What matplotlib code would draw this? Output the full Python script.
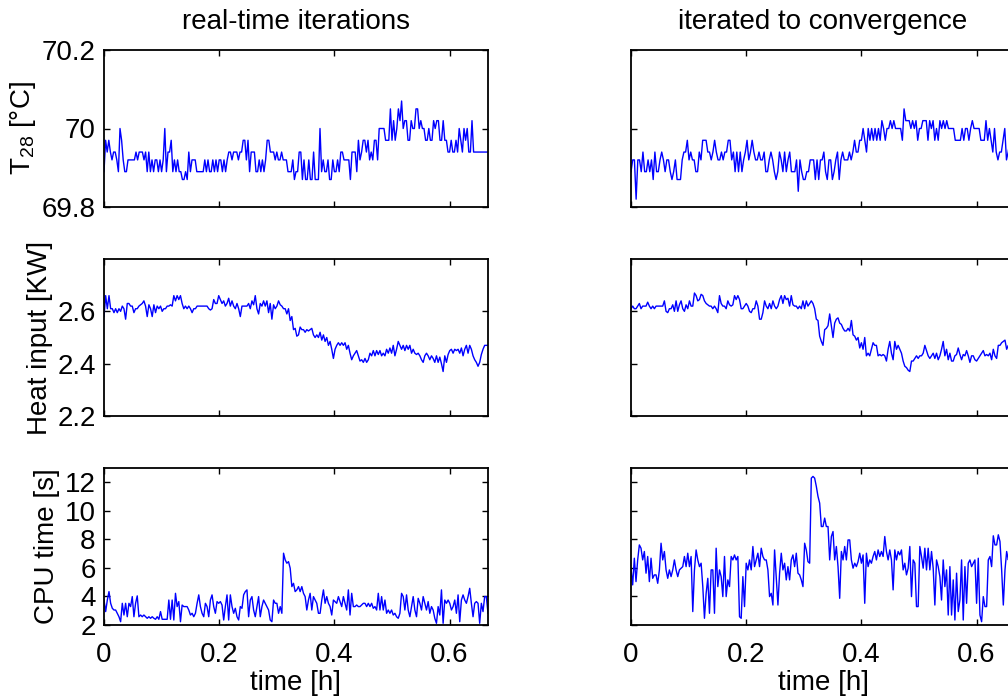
import numpy as np
import matplotlib
matplotlib.use("Agg")
import matplotlib.pyplot as plt

plt.rcParams['font.family'] = ['Liberation Sans', 'DejaVu Sans']
plt.rcParams['mathtext.fontset'] = 'custom'
plt.rcParams['mathtext.rm'] = 'Liberation Sans'
plt.rcParams['mathtext.it'] = 'Liberation Sans:italic'

T_END = 2.0 / 3.0  # 40 minutes in hours

col_titles = ["real-time iterations", "iterated to convergence"]
row_labels = [r"T$_{\mathrm{28}}$ [°C]", "Heat input [KW]", "CPU time [s]"]
x_ticks = [0, 0.2, 0.4, 0.6]
x_ticklabels = ["0", "0.2", "0.4", "0.6"]
y_limits = [(69.8, 70.2), (2.2, 2.8), (2, 13)]
y_ticks = [[69.8, 70, 70.2], [2.2, 2.4, 2.6], [2, 4, 6, 8, 10, 12]]
y_ticklabels = [["69.8", "70", "70.2"], ["2.2", "2.4", "2.6"],
                ["2", "4", "6", "8", "10", "12"]]

temp_rt = [
    69.89, 69.97, 69.94, 69.97, 69.94, 69.92, 69.94, 69.94, 69.92, 69.89,
    70.00, 69.97, 69.92, 69.89, 69.89, 69.92, 69.92, 69.92, 69.92, 69.92,
    69.94, 69.92, 69.94, 69.94, 69.94, 69.92, 69.94, 69.89, 69.94, 69.89,
    69.92, 69.89, 69.92, 69.92, 69.89, 69.92, 69.89, 69.92, 70.00, 69.89,
    69.94, 69.94, 69.97, 69.89, 69.92, 69.89, 69.92, 69.89, 69.89, 69.87,
    69.87, 69.89, 69.87, 69.94, 69.89, 69.92, 69.92, 69.92, 69.89, 69.89,
    69.89, 69.89, 69.89, 69.92, 69.89, 69.92, 69.89, 69.89, 69.92, 69.89,
    69.92, 69.89, 69.92, 69.92, 69.89, 69.92, 69.89, 69.92, 69.94, 69.94,
    69.92, 69.94, 69.94, 69.94, 69.92, 69.94, 69.94, 69.97, 69.97, 69.92,
    69.97, 69.89, 69.94, 69.94, 69.94, 69.89, 69.89, 69.92, 69.89, 69.92,
    69.89, 69.92, 69.97, 69.97, 69.94, 69.94, 69.94, 69.92, 69.94, 69.92,
    69.92, 69.94, 69.92, 69.92, 69.92, 69.89, 69.89, 69.89, 69.92, 69.87,
    69.89, 69.89, 69.94, 69.94, 69.87, 69.92, 69.87, 69.87, 69.92, 69.87,
    69.87, 69.94, 69.87, 69.87, 69.87, 70.00, 69.89, 69.92, 69.89, 69.89,
    69.92, 69.87, 69.87, 69.92, 69.89, 69.89, 69.92, 69.89, 69.94, 69.94,
    69.92, 69.92, 69.92, 69.92, 69.87, 69.94, 69.94, 69.94, 69.89, 69.97,
    69.92, 69.94, 69.97, 69.97, 69.94, 69.97, 69.92, 69.94, 69.92, 69.97,
    69.97, 69.92, 70.00, 70.00, 70.00, 70.00, 69.97, 69.97, 69.97, 70.05,
    69.97, 70.02, 69.97, 70.00, 70.05, 70.02, 70.07, 70.00, 70.02, 70.02,
    69.97, 69.97, 70.02, 70.00, 70.00, 70.05, 70.05, 70.00, 70.02, 70.00,
    70.00, 69.97, 69.97, 70.00, 69.97, 69.97, 70.02, 70.00, 70.02, 70.02,
    69.97, 69.97, 70.02, 69.97, 69.97, 69.94, 69.94, 69.97, 69.94, 69.94,
    69.97, 69.94, 70.00, 69.97, 69.94, 70.00, 69.97, 70.00, 69.94, 69.94,
    70.02, 69.94, 69.94, 69.94, 69.94, 69.94, 69.94, 69.94, 69.94, 69.94,
    69.94,
]

temp_conv = [
    69.89, 69.92, 69.92, 69.82, 69.92, 69.92, 69.89, 69.94, 69.89, 69.89,
    69.92, 69.89, 69.92, 69.87, 69.94, 69.89, 69.89, 69.92, 69.94, 69.92,
    69.89, 69.92, 69.92, 69.89, 69.87, 69.89, 69.92, 69.87, 69.87, 69.87,
    69.92, 69.94, 69.94, 69.97, 69.92, 69.94, 69.92, 69.92, 69.89, 69.89,
    69.94, 69.92, 69.97, 69.97, 69.97, 69.94, 69.94, 69.92, 69.94, 69.97,
    69.94, 69.92, 69.92, 69.94, 69.92, 69.94, 69.94, 69.97, 69.97, 69.92,
    69.94, 69.89, 69.94, 69.89, 69.94, 69.89, 69.92, 69.94, 69.97, 69.92,
    69.94, 69.97, 69.94, 69.92, 69.92, 69.94, 69.92, 69.92, 69.94, 69.89,
    69.89, 69.92, 69.94, 69.92, 69.89, 69.87, 69.89, 69.94, 69.92, 69.89,
    69.94, 69.89, 69.92, 69.94, 69.89, 69.89, 69.89, 69.92, 69.84, 69.92,
    69.89, 69.87, 69.87, 69.89, 69.89, 69.92, 69.92, 69.92, 69.87, 69.92,
    69.87, 69.92, 69.92, 69.94, 69.89, 69.87, 69.92, 69.92, 69.87, 69.89,
    69.92, 69.94, 69.87, 69.92, 69.94, 69.92, 69.92, 69.92, 69.94, 69.92,
    69.94, 69.97, 69.94, 69.94, 69.97, 69.97, 70.00, 69.97, 69.94, 70.00,
    69.97, 70.00, 69.97, 70.00, 69.97, 70.00, 69.97, 70.02, 70.00, 69.97,
    70.00, 70.00, 70.02, 70.00, 70.02, 70.00, 70.00, 70.00, 70.00, 69.97,
    70.05, 70.02, 70.02, 70.02, 70.00, 70.02, 70.00, 70.02, 69.97, 70.00,
    70.00, 70.02, 70.02, 70.02, 69.97, 70.02, 70.00, 70.02, 69.97, 70.00,
    69.97, 70.02, 70.00, 70.02, 70.00, 70.02, 70.00, 70.00, 70.00, 70.00,
    69.97, 69.97, 69.97, 69.97, 70.00, 69.97, 70.00, 70.00, 69.97, 70.00,
    70.02, 70.00, 70.00, 70.00, 70.00, 69.97, 69.97, 69.97, 70.02, 69.97,
    70.00, 69.97, 69.94, 70.00, 69.94, 69.92, 69.94, 69.94, 69.97, 70.00,
    69.92, 69.94, 69.97, 69.94, 69.94, 69.97,
]

heat_rt = [
    2.58, 2.66, 2.61, 2.66, 2.61, 2.61, 2.595, 2.61, 2.595, 2.61,
    2.60, 2.62, 2.61, 2.57, 2.63, 2.63, 2.62, 2.62, 2.595, 2.61,
    2.61, 2.62, 2.625, 2.63, 2.64, 2.62, 2.58, 2.625, 2.61, 2.58,
    2.625, 2.595, 2.62, 2.61, 2.62, 2.60, 2.61, 2.61, 2.62, 2.62,
    2.625, 2.62, 2.66, 2.64, 2.66, 2.645, 2.66, 2.63, 2.61, 2.62,
    2.61, 2.62, 2.61, 2.595, 2.61, 2.61, 2.62, 2.62, 2.62, 2.62,
    2.62, 2.62, 2.62, 2.61, 2.605, 2.61, 2.645, 2.63, 2.63, 2.66,
    2.645, 2.63, 2.64, 2.62, 2.63, 2.65, 2.62, 2.64, 2.62, 2.61,
    2.63, 2.61, 2.58, 2.62, 2.62, 2.62, 2.62, 2.63, 2.61, 2.64,
    2.625, 2.66, 2.61, 2.59, 2.63, 2.62, 2.64, 2.62, 2.64, 2.595,
    2.63, 2.57, 2.625, 2.61, 2.62, 2.64, 2.625, 2.62, 2.61, 2.61,
    2.59, 2.61, 2.565, 2.58, 2.53, 2.535, 2.505, 2.51, 2.54, 2.53,
    2.53, 2.52, 2.53, 2.525, 2.53, 2.535, 2.51, 2.50, 2.51, 2.50,
    2.52, 2.49, 2.51, 2.485, 2.50, 2.47, 2.485, 2.455, 2.42, 2.455,
    2.47, 2.48, 2.47, 2.48, 2.47, 2.48, 2.455, 2.47, 2.44, 2.415,
    2.43, 2.44, 2.45, 2.43, 2.41, 2.415, 2.405, 2.42, 2.405, 2.415,
    2.44, 2.43, 2.45, 2.43, 2.45, 2.435, 2.45, 2.43, 2.44, 2.43,
    2.455, 2.44, 2.46, 2.44, 2.47, 2.43, 2.455, 2.485, 2.47, 2.455,
    2.47, 2.45, 2.47, 2.455, 2.47, 2.44, 2.455, 2.44, 2.435, 2.44,
    2.43, 2.415, 2.405, 2.43, 2.44, 2.43, 2.415, 2.43, 2.42, 2.405,
    2.43, 2.405, 2.425, 2.40, 2.37, 2.43, 2.405, 2.435, 2.45, 2.455,
    2.44, 2.455, 2.45, 2.455, 2.44, 2.46, 2.43, 2.455, 2.47, 2.44,
    2.47, 2.455, 2.43, 2.415, 2.405, 2.39, 2.405, 2.435, 2.455, 2.47,
    2.47, 2.47,
]

heat_conv = [
    2.61, 2.62, 2.61, 2.61, 2.62, 2.63, 2.61, 2.62, 2.62, 2.62,
    2.635, 2.62, 2.61, 2.62, 2.61, 2.62, 2.62, 2.62, 2.62, 2.62,
    2.64, 2.60, 2.595, 2.61, 2.61, 2.625, 2.60, 2.64, 2.60, 2.625,
    2.64, 2.61, 2.60, 2.625, 2.61, 2.64, 2.62, 2.62, 2.67, 2.66,
    2.64, 2.645, 2.665, 2.66, 2.64, 2.63, 2.625, 2.62, 2.62, 2.61,
    2.62, 2.61, 2.595, 2.66, 2.63, 2.62, 2.62, 2.61, 2.64, 2.625,
    2.62, 2.625, 2.66, 2.645, 2.66, 2.645, 2.61, 2.61, 2.62, 2.63,
    2.62, 2.60, 2.595, 2.61, 2.61, 2.64, 2.62, 2.57, 2.57, 2.595,
    2.64, 2.62, 2.61, 2.63, 2.61, 2.64, 2.62, 2.61, 2.62, 2.645,
    2.66, 2.63, 2.66, 2.645, 2.65, 2.62, 2.66, 2.625, 2.62, 2.62,
    2.61, 2.62, 2.61, 2.64, 2.61, 2.64, 2.62, 2.63, 2.64, 2.63,
    2.61, 2.57, 2.565, 2.505, 2.485, 2.47, 2.53, 2.535, 2.545, 2.59,
    2.545, 2.50, 2.555, 2.57, 2.575, 2.555, 2.55, 2.535, 2.525, 2.525,
    2.535, 2.525, 2.565, 2.51, 2.505, 2.49, 2.50, 2.46, 2.48, 2.455,
    2.50, 2.43, 2.44, 2.43, 2.455, 2.48, 2.47, 2.47, 2.43, 2.435,
    2.43, 2.435, 2.43, 2.41, 2.455, 2.485, 2.44, 2.415, 2.485, 2.455,
    2.47, 2.455, 2.44, 2.41, 2.39, 2.385, 2.375, 2.37, 2.41, 2.41,
    2.42, 2.43, 2.42, 2.43, 2.43, 2.44, 2.47, 2.45, 2.43, 2.42,
    2.43, 2.44, 2.42, 2.44, 2.415, 2.43, 2.455, 2.485, 2.43, 2.455,
    2.415, 2.44, 2.41, 2.41, 2.43, 2.435, 2.46, 2.435, 2.415, 2.435,
    2.43, 2.45, 2.43, 2.405, 2.43, 2.43, 2.415, 2.41, 2.42, 2.43,
    2.44, 2.45, 2.43, 2.435, 2.43, 2.44, 2.415, 2.455, 2.43, 2.42,
    2.47, 2.47, 2.48, 2.485, 2.49, 2.455, 2.47, 2.46, 2.45, 2.46,
    2.47,
]

cpu_rt = [
    3.75, 2.94, 3.75, 4.34, 3.52, 3.17, 3.05, 3.05, 2.82, 2.58,
    2.23, 3.52, 2.70, 3.52, 2.58, 3.52, 3.29, 3.99, 2.58, 3.52,
    4.04, 2.58, 2.70, 2.58, 2.70, 2.58, 2.47, 2.58, 2.47, 2.58,
    2.47, 2.40, 2.58, 2.40, 2.94, 2.40, 2.40, 2.40, 2.40, 3.75,
    2.40, 3.75, 2.35, 4.22, 3.29, 3.64, 2.23, 3.40, 3.29, 3.29,
    3.29, 3.05, 2.70, 2.82, 2.58, 2.82, 3.52, 4.11, 3.29, 2.82,
    2.58, 3.52, 3.29, 2.58, 3.75, 4.11, 3.29, 2.82, 3.64, 3.52,
    3.64, 3.40, 2.35, 3.29, 4.11, 2.35, 4.11, 3.29, 2.82, 3.17,
    2.58, 2.35, 3.29, 3.17, 4.11, 4.34, 4.46, 2.58, 3.75, 3.99,
    3.05, 2.58, 3.29, 3.99, 2.58, 3.29, 3.75, 3.52, 3.29, 3.05,
    2.35, 2.23, 3.75, 3.52, 3.52, 2.82, 3.29, 2.82, 7.03, 6.56,
    6.33, 6.44, 5.98, 4.69, 4.92, 4.34, 4.46, 4.69, 4.34, 4.69,
    4.22, 3.99, 3.05, 3.75, 4.22, 3.05, 3.99, 3.75, 3.52, 2.82,
    2.82, 3.75, 4.46, 3.52, 3.99, 3.52, 3.29, 2.70, 3.75, 3.64,
    3.52, 3.99, 3.64, 3.29, 3.99, 3.52, 3.05, 4.46, 2.70, 4.22,
    3.29, 3.29, 3.40, 3.29, 3.29, 3.40, 3.52, 3.52, 3.29, 3.52,
    3.29, 3.52, 3.17, 3.29, 3.05, 4.22, 3.05, 3.99, 3.05, 3.75,
    2.82, 3.05, 2.82, 3.05, 2.70, 2.82, 2.58, 2.47, 2.82, 4.22,
    3.99, 3.05, 4.11, 3.05, 2.58, 3.29, 3.99, 3.05, 2.58, 3.87,
    3.52, 3.05, 3.99, 3.52, 3.05, 3.64, 2.82, 3.29, 3.05, 2.47,
    2.12, 3.29, 2.70, 4.46, 2.12, 3.75, 3.52, 3.75, 3.52, 3.05,
    3.29, 3.75, 2.82, 4.11, 2.23, 3.75, 4.11, 3.75, 3.52, 3.99,
    4.57, 3.52, 2.58, 3.52, 3.64, 3.52, 2.12, 3.52, 2.94, 3.99,
    3.99, 2.82,
]

cpu_conv = [
    5.98, 4.81, 6.68, 5.04, 6.56, 7.61, 7.38, 6.56, 7.15, 5.63,
    6.80, 5.04, 6.68, 5.27, 5.51, 5.51, 4.92, 5.86, 7.73, 6.56,
    7.15, 5.86, 5.27, 5.86, 5.39, 5.86, 6.56, 5.86, 5.39, 5.86,
    5.98, 6.09, 6.80, 6.09, 7.03, 6.09, 6.80, 2.94, 5.86, 7.26,
    6.56, 6.09, 6.33, 4.69, 2.47, 4.22, 5.27, 2.82, 5.86, 5.86,
    2.82, 7.38, 4.69, 5.86, 5.39, 3.99, 6.80, 3.99, 5.16, 4.69,
    6.80, 6.56, 6.91, 6.56, 6.80, 2.58, 2.47, 5.39, 3.29, 6.33,
    5.86, 6.56, 5.86, 7.50, 6.09, 6.56, 7.03, 6.09, 7.38, 6.80,
    6.56, 6.56, 5.86, 3.99, 4.22, 3.40, 7.26, 5.39, 3.40, 5.63,
    7.03, 5.86, 6.33, 5.16, 6.09, 5.16, 6.56, 6.91, 6.09, 7.03,
    5.63, 5.51, 5.16, 4.69, 7.73, 7.26, 6.44, 6.33, 12.29, 12.41,
    12.29, 11.71, 11.01, 10.54, 8.90, 8.90, 9.49, 8.90, 8.90, 6.56,
    8.20, 8.55, 6.56, 7.50, 6.09, 3.87, 7.15, 6.56, 7.50, 6.56,
    7.96, 7.96, 6.56, 5.98, 6.33, 6.09, 6.44, 7.03, 6.33, 6.91,
    3.52, 7.03, 6.09, 6.56, 6.33, 6.80, 7.15, 6.56, 7.26, 6.80,
    7.15, 6.80, 8.20, 7.15, 6.56, 7.26, 6.56, 4.46, 7.26, 6.56,
    7.15, 6.91, 7.26, 5.86, 6.33, 5.51, 5.98, 7.50, 3.99, 6.56,
    6.33, 3.29, 3.29, 7.50, 6.80, 5.98, 7.38, 5.86, 7.38, 5.86,
    7.15, 5.98, 3.40, 6.56, 6.09, 5.39, 3.75, 6.56, 4.69, 5.86,
    2.70, 6.09, 2.70, 5.16, 2.35, 5.63, 2.94, 3.75, 6.56, 2.35,
    6.09, 3.52, 6.33, 6.56, 6.09, 6.33, 6.56, 3.52, 6.68, 2.70,
    2.23, 3.99, 3.29, 3.29, 6.56, 6.80, 6.09, 8.25, 7.61, 7.61,
    8.32, 7.85, 5.86, 3.40, 5.86, 7.15, 6.56, 7.03, 6.33, 5.86,
    6.56,
]

series = [[temp_rt, temp_conv], [heat_rt, heat_conv], [cpu_rt, cpu_conv]]

W, H = 1008, 699
fig = plt.figure(figsize=(W / 100, H / 100), dpi=100)

col_left_px = [104, 631]
ax_w_px = 384
row_top_px = [50, 259, 468]
ax_h_px = 157

for r in range(3):
    for c in range(2):
        l = col_left_px[c] / W
        b = 1 - (row_top_px[r] + ax_h_px) / H
        ax = fig.add_axes([l, b, ax_w_px / W, ax_h_px / H])
        y = np.asarray(series[r][c])
        t = np.linspace(0, T_END, len(y))
        ax.plot(t, y, color='#0000ff', lw=1.0)
        ax.set_xlim(0, T_END)
        ax.set_ylim(*y_limits[r])
        ax.set_xticks(x_ticks)
        ax.set_yticks(y_ticks[r])
        for s in ax.spines.values():
            s.set_linewidth(1.3)
        ax.tick_params(direction='in', top=True, right=True, length=4,
                       width=1.0, labelsize=20, pad=6)
        ax.tick_params(axis='x', pad=12)
        if c == 0:
            ax.set_yticklabels(y_ticklabels[r])
            ax.set_ylabel(row_labels[r], fontsize=20, labelpad=3)
        else:
            ax.set_yticklabels([])
        if r == 2:
            ax.set_xticklabels(x_ticklabels)
            ax.set_xlabel("time [h]", fontsize=20, labelpad=2)
        else:
            ax.set_xticklabels([])
        if r == 0:
            ax.set_title(col_titles[c], fontsize=20, pad=15)

fig.savefig("out.png", dpi=100)
